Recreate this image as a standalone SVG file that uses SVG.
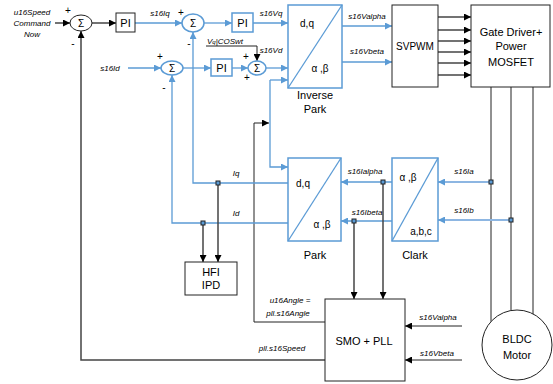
<svg xmlns="http://www.w3.org/2000/svg" width="553" height="384" viewBox="0 0 553 384">
<defs>
<marker id="ab" viewBox="0 0 10 10" refX="10" refY="5" markerWidth="8" markerHeight="7" markerUnits="userSpaceOnUse" orient="auto"><path d="M0,0 L10,5 L0,10 z" fill="#5B9BD5"/></marker>
<marker id="ak" viewBox="0 0 10 10" refX="10" refY="5" markerWidth="8" markerHeight="7" markerUnits="userSpaceOnUse" orient="auto"><path d="M0,0 L10,5 L0,10 z" fill="#000"/></marker>
</defs>
<style>
.bl{fill:none;stroke:#5B9BD5;stroke-width:1.3}
.blt{fill:none;stroke:#8DB6E2;stroke-width:2.2}
.gk{fill:none;stroke:#444;stroke-width:1.5}
.k{fill:none;stroke:#222;stroke-width:1}
.bbox{fill:#fff;stroke:#5B9BD5;stroke-width:1.5}
.kbox{fill:#fff;stroke:#222;stroke-width:1}
.lab{font-family:"Liberation Sans",Arial,sans-serif;font-style:italic;font-size:8px;fill:#000;text-anchor:middle}
.t{font-family:"Liberation Sans",Arial,sans-serif;font-size:11px;fill:#000;text-anchor:middle}
.s{font-family:"Liberation Sans",Arial,sans-serif;font-size:10px;fill:#000;text-anchor:middle}
.dot{fill:#5B9BD5;stroke:#222;stroke-width:1}
</style>
<rect width="553" height="384" fill="#fff"/>

<g id="connectors">
<path class="gk" d="M55,23 L70,23" marker-end="url(#ak)"/>
<path class="gk" d="M92,23 L116,23" marker-end="url(#ak)"/>
<path class="bl" d="M135,23 L182,23" marker-end="url(#ab)"/>
<path class="bl" d="M204,23 L232,23" marker-end="url(#ab)"/>
<path class="bl" d="M253,23 L288,23" marker-end="url(#ab)"/>
<path class="bl" d="M128,68 L161,68" marker-end="url(#ab)"/>
<path class="bl" d="M183,68 L211,68" marker-end="url(#ab)"/>
<path class="bl" d="M232,68 L248,68" marker-end="url(#ab)"/>
<path class="bl" d="M266,68 L288,68" marker-end="url(#ab)"/>
<path class="k" d="M206,46 L257,46 L257,61" marker-end="url(#ak)"/>
<path class="bl" d="M270,80 L288,80" marker-end="url(#ab)"/>
<path class="bl" d="M270,80 L270,167 L288,167" marker-end="url(#ab)"/>
<path class="k" d="M325,322 L254,322 L254,123 L269,123" marker-end="url(#ak)"/>
<path class="bl" d="M342,26 L392,26" marker-end="url(#ab)"/>
<path class="bl" d="M342,62 L392,62" marker-end="url(#ab)"/>
<path class="gk" d="M438,17 L471,17" marker-end="url(#ak)"/>
<path class="gk" d="M438,30 L471,30" marker-end="url(#ak)"/>
<path class="gk" d="M438,41 L471,41" marker-end="url(#ak)"/>
<path class="gk" d="M438,52 L471,52" marker-end="url(#ak)"/>
<path class="gk" d="M438,63 L471,63" marker-end="url(#ak)"/>
<path class="gk" d="M438,75 L471,75" marker-end="url(#ak)"/>
<path class="k" d="M491,87 L491,321.6"/>
<path class="k" d="M511,87 L511,310.5"/>
<path class="k" d="M533,87 L533,314"/>
<path class="blt" d="M491,182 L438,182" marker-end="url(#ab)"/>
<path class="blt" d="M511,220 L438,220" marker-end="url(#ab)"/>
<path class="bl" d="M392,182 L341,182" marker-end="url(#ab)"/>
<path class="bl" d="M392,221 L341,221" marker-end="url(#ab)"/>
<path class="gk" d="M383,182 L383,299" marker-end="url(#ak)"/>
<path class="gk" d="M354,221 L354,299" marker-end="url(#ak)"/>
<path class="bl" d="M288,183 L193,183 L193,32" marker-end="url(#ab)"/>
<path class="bl" d="M288,223 L172,223 L172,75" marker-end="url(#ab)"/>
<path class="gk" d="M218,183 L218,262" marker-end="url(#ak)"/>
<path class="gk" d="M203,223 L203,262" marker-end="url(#ak)"/>
<path class="gk" d="M325,360 L81,360 L81,31" marker-end="url(#ak)"/>
<path class="k" d="M462,326 L405,326" marker-end="url(#ak)"/>
<path class="k" d="M462,360 L405,360" marker-end="url(#ak)"/>
<rect class="dot" x="489" y="180" width="4" height="4"/>
<rect class="dot" x="509" y="218" width="4" height="4"/>
<rect class="dot" x="381" y="180" width="4" height="4"/>
<rect class="dot" x="352" y="219" width="4" height="4"/>
<rect class="dot" x="216" y="181" width="4" height="4"/>
<rect class="dot" x="201" y="221" width="4" height="4"/>
<text class="lab" x="32" y="15">u16Speed</text>
<text class="lab" x="32" y="26">Command</text>
<text class="lab" x="32" y="37">Now</text>
<text class="lab" x="160" y="16">s16Iq</text>
<text class="lab" x="271" y="16">s16Vq</text>
<text class="lab" x="110" y="71">s16Id</text>
<text class="lab" x="225" y="44">V<tspan font-size="6">q</tspan>|COSwt</text>
<text class="lab" x="271" y="53">s16Vd</text>
<text class="lab" x="367" y="19">s16Valpha</text>
<text class="lab" x="367" y="54">s16Vbeta</text>
<text class="lab" x="236" y="176">Iq</text>
<text class="lab" x="236" y="216">Id</text>
<text class="lab" x="365" y="174">s16Ialpha</text>
<text class="lab" x="367" y="215">s16Ibeta</text>
<text class="lab" x="464" y="174">s16Ia</text>
<text class="lab" x="464" y="213">s16Ib</text>
<text class="lab" x="290" y="303">u16Angle =</text>
<text class="lab" x="288" y="316">pll.s16Angle</text>
<text class="lab" x="282" y="351">pll.s16Speed</text>
<text class="lab" x="438" y="320">s16Valpha</text>
<text class="lab" x="437" y="356">s16Vbeta</text>
<text class="s" x="68" y="14">+</text>
<text class="s" x="73" y="47">-</text>
<text class="s" x="181" y="16">+</text>
<text class="s" x="189" y="47">-</text>
<text class="s" x="160" y="60">+</text>
<text class="s" x="164" y="91">-</text>
<text class="s" x="246" y="60">+</text>
<text class="s" x="247" y="81">+</text>
</g>

<g id="sum1"><ellipse class="kbox" cx="81" cy="23" rx="11" ry="8"/><text class="s" x="81" y="27">Σ</text></g>
<g id="pi1"><rect class="kbox" x="116" y="13" width="19" height="19"/><text class="t" x="125.5" y="27">PI</text></g>
<g id="sum2"><ellipse class="bbox" cx="193" cy="23" rx="11" ry="9"/><text class="s" x="193" y="27">Σ</text></g>
<g id="pi2"><rect class="bbox" x="232" y="13" width="21" height="19"/><text class="t" x="242.5" y="27">PI</text></g>
<g id="sum3"><ellipse class="bbox" cx="172" cy="68" rx="11" ry="7"/><text class="s" x="172" y="72">Σ</text></g>
<g id="pi3"><rect class="bbox" x="211" y="59" width="21" height="17"/><text class="t" x="221.5" y="72">PI</text></g>
<g id="sum4"><ellipse class="bbox" cx="257" cy="68" rx="9" ry="7"/><text class="s" x="257" y="72">Σ</text></g>

<g id="inversePark">
<rect class="bbox" x="288" y="5" width="54" height="83"/>
<path class="bl" d="M288,88 L342,5"/>
<text class="s" x="307" y="27">d,q</text>
<text class="s" x="320" y="72">α ,β</text>
<text class="t" x="315" y="99">Inverse</text>
<text class="t" x="315" y="113">Park</text>
</g>
<g id="svpwm"><rect class="kbox" x="392" y="5" width="46" height="82"/><text class="s" x="415" y="50">SVPWM</text></g>
<g id="gateDriver">
<rect class="kbox" x="471" y="5" width="79" height="82"/>
<text class="t" x="511" y="36">Gate Driver+</text>
<text class="t" x="511" y="50">Power</text>
<text class="t" x="511" y="66">MOSFET</text>
</g>
<g id="park">
<rect class="bbox" x="288" y="158" width="53" height="83"/>
<path class="bl" d="M288,241 L341,158"/>
<text class="s" x="303" y="187">d,q</text>
<text class="s" x="322" y="228">α ,β</text>
<text class="t" x="315" y="259">Park</text>
</g>
<g id="clark">
<rect class="bbox" x="392" y="158" width="46" height="83"/>
<path class="bl" d="M392,241 L438,158"/>
<text class="s" x="408" y="181">α ,β</text>
<text class="s" x="421" y="235">a,b,c</text>
<text class="t" x="415" y="259">Clark</text>
</g>
<g id="hfi">
<rect class="kbox" x="185" y="262" width="52" height="33"/>
<text class="t" x="211" y="276">HFI</text>
<text class="t" x="211" y="289">IPD</text>
</g>
<g id="smo">
<rect class="kbox" x="325" y="299" width="80" height="82"/>
<text class="t" x="364" y="345">SMO + PLL</text>
</g>
<g id="motor">
<circle class="kbox" cx="517" cy="345" r="35"/>
<text class="t" x="517" y="343">BLDC</text>
<text class="t" x="517" y="359">Motor</text>
</g>
</svg>
